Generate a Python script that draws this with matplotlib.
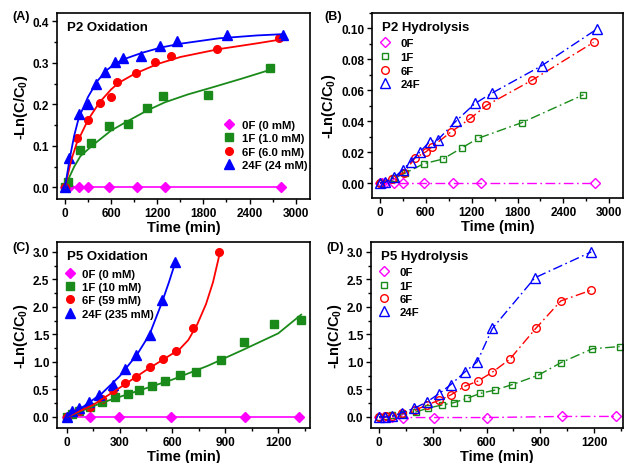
import matplotlib
matplotlib.use("Agg")
import matplotlib.pyplot as plt
from matplotlib.ticker import MultipleLocator
from matplotlib.lines import Line2D

plt.rcParams['font.family'] = ['Liberation Sans', 'DejaVu Sans']
plt.rcParams['font.weight'] = 'bold'
plt.rcParams['mathtext.fontset'] = 'custom'
plt.rcParams['mathtext.rm'] = 'Liberation Sans:bold'
plt.rcParams['mathtext.bf'] = 'Liberation Sans:bold'
plt.rcParams['mathtext.it'] = 'Liberation Sans:bold'

MAG, GRN, RED, BLU = '#FF00FF', '#1A8A1A', '#FF0000', '#0000FF'

# ---------------- Panel A: P2 Oxidation ----------------
a_0f_t = [0, 50, 180, 300, 570, 940, 1305, 2810]
a_0f_v = [0, 0, 0, 0, 0, 0, 0, 0]
a_1f_t = [0, 43, 200, 343, 572, 815, 1066, 1274, 1860, 2662]
a_1f_v = [0, 0.012, 0.090, 0.107, 0.148, 0.153, 0.191, 0.220, 0.223, 0.288]
a_6f_t = [0, 160, 299, 451, 598, 680, 923, 1170, 1378, 1981, 2779]
a_6f_v = [0, 0.118, 0.162, 0.203, 0.218, 0.255, 0.275, 0.301, 0.317, 0.333, 0.359]
a_24f_t = [0, 56, 182, 299, 403, 524, 655, 750, 993, 1235, 1452, 2107, 2830]
a_24f_v = [0, 0.070, 0.177, 0.200, 0.249, 0.277, 0.303, 0.311, 0.316, 0.341, 0.352, 0.368, 0.368]
# fitted curves
a_fit1_t = [0, 50, 120, 200, 350, 600, 800, 1066, 1300, 1600, 1900, 2300, 2700]
a_fit1_v = [0, 0.022, 0.050, 0.075, 0.100, 0.137, 0.158, 0.185, 0.205, 0.224, 0.240, 0.262, 0.285]
a_fit6_t = [0, 80, 150, 300, 450, 600, 700, 900, 1200, 1500, 2000, 2500, 2800]
a_fit6_v = [0, 0.065, 0.105, 0.163, 0.205, 0.236, 0.252, 0.273, 0.297, 0.314, 0.333, 0.347, 0.356]
a_fit24_t = [0, 60, 120, 180, 300, 420, 540, 660, 800, 1000, 1250, 1500, 2000, 2500, 2830]
a_fit24_v = [0, 0.068, 0.125, 0.168, 0.218, 0.256, 0.282, 0.299, 0.311, 0.324, 0.337, 0.346, 0.359, 0.366, 0.369]
a_labels = ['0F (0 mM)', '1F (1.0 mM)', '6F (6.0 mM)', '24F (24 mM)']

# ---------------- Panel B: P2 Hydrolysis ----------------
b_0f_t = [0, 30, 65, 180, 300, 570, 950, 1320, 2810]
b_0f_v = [0, 0, 0, 0, 0, 0, 0, 0, 0]
b_1f_t = [0, 188, 333, 574, 823, 1073, 1283, 1853, 2663]
b_1f_v = [0, 0.0032, 0.0065, 0.0125, 0.0155, 0.0228, 0.0289, 0.0390, 0.0571]
b_6f_t = [0, 153, 311, 455, 604, 683, 933, 1183, 1393, 1993, 2794]
b_6f_v = [0, 0.0026, 0.0065, 0.0160, 0.0203, 0.0235, 0.0332, 0.0418, 0.0502, 0.0666, 0.0910]
b_24f_t = [0, 65, 188, 298, 403, 526, 648, 753, 999, 1244, 1459, 2116, 2838]
b_24f_v = [0, 0.0004, 0.0037, 0.0086, 0.0138, 0.0203, 0.0267, 0.0278, 0.0403, 0.0515, 0.0580, 0.0759, 0.0996]
b_labels = ['0F', '1F', '6F', '24F']

# ---------------- Panel C: P5 Oxidation ----------------
c_0f_t = [0, 132, 297, 592, 1011, 1320]
c_0f_v = [0, 0, 0, 0, 0, 0]
c_1f_t = [0, 30, 70, 132, 200, 274, 346, 410, 486, 560, 640, 735, 878, 1005, 1175, 1330]
c_1f_v = [0, 0.05, 0.10, 0.19, 0.27, 0.37, 0.41, 0.49, 0.56, 0.65, 0.76, 0.81, 1.03, 1.37, 1.69, 1.77]
c_6f_t = [0, 70, 135, 200, 265, 330, 395, 470, 545, 620, 715, 865]
c_6f_v = [0, 0.10, 0.18, 0.33, 0.49, 0.62, 0.72, 0.91, 1.05, 1.20, 1.62, 3.00]
c_24f_t = [0, 30, 68, 127, 183, 263, 330, 393, 470, 542, 617]
c_24f_v = [0, 0.11, 0.17, 0.28, 0.40, 0.59, 0.87, 1.12, 1.49, 2.13, 2.82]
c_fit1_t = [0, 200, 400, 600, 800, 1000, 1200, 1330]
c_fit1_v = [0, 0.26, 0.47, 0.68, 0.93, 1.22, 1.52, 1.86]
c_fit6_t = [0, 150, 300, 450, 550, 640, 690, 740, 790, 830, 870]
c_fit6_v = [0, 0.22, 0.53, 0.85, 1.05, 1.23, 1.40, 1.68, 2.05, 2.45, 3.00]
c_fit24_t = [0, 100, 200, 300, 400, 470, 540, 580, 617]
c_fit24_v = [0, 0.20, 0.43, 0.74, 1.14, 1.50, 2.08, 2.45, 2.82]
c_labels = ['0F (0 mM)', '1F (10 mM)', '6F (59 mM)', '24F (235 mM)']

# ---------------- Panel D: P5 Hydrolysis ----------------
d_0f_t = [0, 25, 73, 136, 306, 604, 1022, 1324]
d_0f_v = [0, 0, 0, -0.01, -0.01, -0.01, 0.01, 0.01]
d_1f_t = [0, 40, 73, 134, 204, 273, 354, 417, 493, 566, 648, 745, 889, 1017, 1191, 1343]
d_1f_v = [0, 0.01, 0.03, 0.06, 0.09, 0.16, 0.22, 0.26, 0.34, 0.43, 0.49, 0.59, 0.76, 0.99, 1.24, 1.28]
d_6f_t = [0, 40, 73, 130, 201, 266, 333, 400, 480, 550, 631, 730, 875, 1015, 1181]
d_6f_v = [0, 0.01, 0.02, 0.07, 0.12, 0.22, 0.30, 0.40, 0.56, 0.65, 0.81, 1.05, 1.61, 2.11, 2.30]
d_24f_t = [0, 34, 73, 130, 197, 266, 333, 401, 480, 547, 633, 870, 1185]
d_24f_v = [0, 0.0, 0.01, 0.08, 0.16, 0.27, 0.42, 0.59, 0.82, 1.00, 1.61, 2.53, 3.00]
d_labels = ['0F', '1F', '6F', '24F']

W, H = 624, 464
fig = plt.figure(figsize=(W / 100, H / 100), dpi=100)


def add_ax(l, r, t, b):
    return fig.add_axes([l / W, 1 - b / H, (r - l) / W, (b - t) / H])


axA = add_ax(57, 310, 14, 200)
axB = add_ax(372, 623, 14, 199)
axC = add_ax(57, 310, 243, 429)
axD = add_ax(371, 623, 243, 429)

TICK_FS = 8.5
LAB_FS = 10.5
TITLE_FS = 9.5
LEG_FS = 8.2


def style(ax, xlim, ylim, xmaj, ymaj, yfmt):
    ax.set_xlim(*xlim)
    ax.set_ylim(*ylim)
    ax.xaxis.set_major_locator(MultipleLocator(xmaj))
    ax.xaxis.set_minor_locator(MultipleLocator(xmaj / 2))
    ax.yaxis.set_major_locator(MultipleLocator(ymaj))
    ax.yaxis.set_minor_locator(MultipleLocator(ymaj / 2))
    ax.yaxis.set_major_formatter(plt.FormatStrFormatter(yfmt))
    ax.tick_params(which='both', direction='out', top=False, right=False,
                   labelsize=TICK_FS, width=1.0)
    ax.tick_params(which='major', length=3.5, pad=2)
    ax.tick_params(which='minor', length=2)
    for lab in ax.get_xticklabels() + ax.get_yticklabels():
        lab.set_fontweight('bold')
    for s in ax.spines.values():
        s.set_linewidth(1.2)
    ax.set_xlabel('Time (min)', fontsize=LAB_FS, fontweight='bold', labelpad=1)
    ax.set_ylabel(r'-Ln(C/C$_{0}$)', fontsize=LAB_FS, fontweight='bold', labelpad=2)


def leg(ax, open_markers, anchor, tpad, lsp):
    hs, ls = ax.get_legend_handles_labels()
    hs = [Line2D([], [], color=h.get_color(), marker=h.get_marker(),
                 mfc='none' if open_markers else h.get_color(), ls='none',
                 ms=h.get_markersize()) for h in hs]
    ax.legend(hs, ls, loc='upper left', bbox_to_anchor=anchor, frameon=False,
              handlelength=1.0, handletextpad=tpad, labelspacing=lsp, borderpad=0,
              prop={'weight': 'bold', 'size': LEG_FS})


ms = 5.5
# Panel A
axA.plot(a_0f_t, a_0f_v, color=MAG, marker='D', ms=5, lw=1.2, label=a_labels[0])
axA.plot(a_1f_t, a_1f_v, color=GRN, marker='s', ms=ms, ls='none', label=a_labels[1])
axA.plot(a_6f_t, a_6f_v, color=RED, marker='o', ms=ms, ls='none', label=a_labels[2])
axA.plot(a_24f_t, a_24f_v, color=BLU, marker='^', ms=6.5, ls='none', label=a_labels[3])
axA.plot(a_fit1_t, a_fit1_v, color=GRN, lw=1.3)
axA.plot(a_fit6_t, a_fit6_v, color=RED, lw=1.3)
axA.plot(a_fit24_t, a_fit24_v, color=BLU, lw=1.3)
style(axA, (-104, 3186), (-0.028, 0.42), 600, 0.1, '%.1f')
leg(axA, False, (0.635, 0.455), 0.6, 0.3)
axA.text(0.04, 0.955, 'P2 Oxidation', transform=axA.transAxes, fontsize=TITLE_FS,
         fontweight='bold', va='top', ha='left')

# Panel B
dd = (0, (7, 2.5, 1.2, 2.5))
axB.plot(b_0f_t, b_0f_v, color=MAG, marker='D', mfc='none', ms=5.5, lw=1.0, ls=dd, label=b_labels[0])
axB.plot(b_1f_t, b_1f_v, color=GRN, marker='s', mfc='none', ms=4.5, lw=1.0, ls=dd, label=b_labels[1])
axB.plot(b_6f_t, b_6f_v, color=RED, marker='o', mfc='none', ms=5.5, lw=1.0, ls=dd, label=b_labels[2])
axB.plot(b_24f_t, b_24f_v, color=BLU, marker='^', mfc='none', ms=6.5, lw=1.0, ls=dd, label=b_labels[3])
style(axB, (-105, 3180), (-0.0097, 0.110), 600, 0.02, '%.2f')
leg(axB, True, (0.005, 0.895), 0.9, 0.33)
axB.text(0.04, 0.955, 'P2 Hydrolysis', transform=axB.transAxes, fontsize=TITLE_FS,
         fontweight='bold', va='top', ha='left')

# Panel C
axC.plot(c_0f_t, c_0f_v, color=MAG, marker='D', ms=5, lw=1.2, label=c_labels[0])
axC.plot(c_1f_t, c_1f_v, color=GRN, marker='s', ms=ms, ls='none', label=c_labels[1])
axC.plot(c_6f_t, c_6f_v, color=RED, marker='o', ms=ms, ls='none', label=c_labels[2])
axC.plot(c_24f_t, c_24f_v, color=BLU, marker='^', ms=6.5, ls='none', label=c_labels[3])
axC.plot(c_fit1_t, c_fit1_v, color=GRN, lw=1.3)
axC.plot(c_fit6_t, c_fit6_v, color=RED, lw=1.3)
axC.plot(c_fit24_t, c_fit24_v, color=BLU, lw=1.3)
style(axC, (-55, 1380), (-0.2, 3.18), 300, 0.5, '%.1f')
leg(axC, False, (0.005, 0.885), 0.6, 0.28)
axC.text(0.04, 0.955, 'P5 Oxidation', transform=axC.transAxes, fontsize=TITLE_FS,
         fontweight='bold', va='top', ha='left')

# Panel D
axD.plot(d_0f_t, d_0f_v, color=MAG, marker='D', mfc='none', ms=5.5, lw=1.0, ls=dd, label=d_labels[0])
axD.plot(d_1f_t, d_1f_v, color=GRN, marker='s', mfc='none', ms=4.5, lw=1.0, ls=dd, label=d_labels[1])
axD.plot(d_6f_t, d_6f_v, color=RED, marker='o', mfc='none', ms=5.5, lw=1.0, ls=dd, label=d_labels[2])
axD.plot(d_24f_t, d_24f_v, color=BLU, marker='^', mfc='none', ms=6.5, lw=1.0, ls=dd, label=d_labels[3])
style(axD, (-45, 1362), (-0.2, 3.18), 300, 0.5, '%.1f')
leg(axD, True, (0.005, 0.895), 0.9, 0.3)
axD.text(0.04, 0.955, 'P5 Hydrolysis', transform=axD.transAxes, fontsize=TITLE_FS,
         fontweight='bold', va='top', ha='left')

# Panel letters
for txt, x, y in [('(A)', 12, 17), ('(B)', 324, 17), ('(C)', 12, 248), ('(D)', 326, 248)]:
    fig.text(x / W, 1 - y / H, txt, fontsize=9, fontweight='bold', va='center', ha='left')

fig.savefig('out.png', dpi=100)
